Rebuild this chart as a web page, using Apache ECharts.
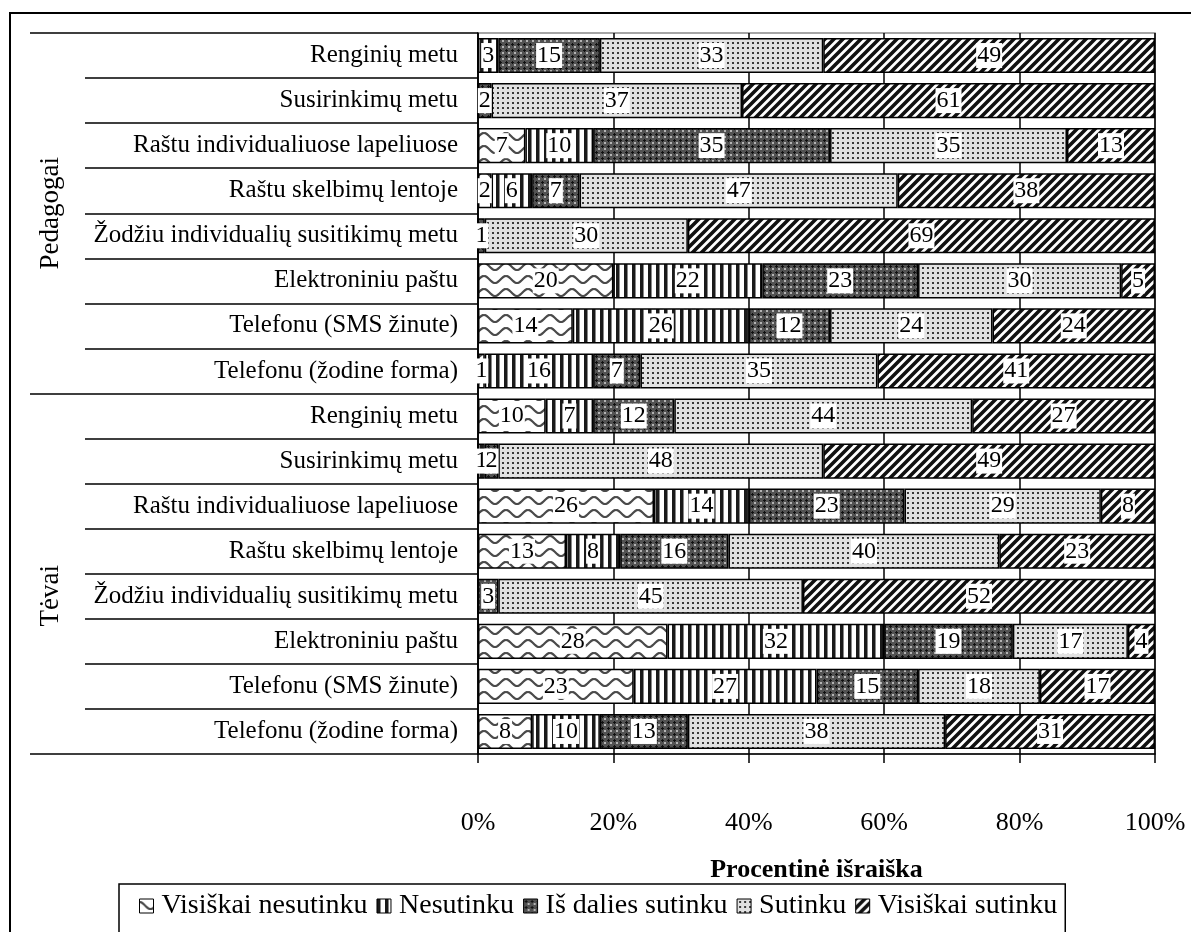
<!DOCTYPE html>
<html>
<head>
<meta charset="utf-8">
<script src="https://cdn.jsdelivr.net/npm/echarts@6/dist/echarts.min.js"></script>
<style>
html,body{margin:0;padding:0;background:#fff;}
#chart{width:1191px;height:932px;}
</style>
</head>
<body>
<div id="chart"></div>
<script>
// ---- data ----
const rowLabels = [
  'Renginių metu','Susirinkimų metu','Raštu individualiuose lapeliuose','Raštu skelbimų lentoje',
  'Žodžiu individualių susitikimų metu','Elektroniniu paštu','Telefonu (SMS žinute)','Telefonu (žodine forma)',
  'Renginių metu','Susirinkimų metu','Raštu individualiuose lapeliuose','Raštu skelbimų lentoje',
  'Žodžiu individualių susitikimų metu','Elektroniniu paštu','Telefonu (SMS žinute)','Telefonu (žodine forma)'
];
const groupLabels = ['Pedagogai','Tėvai'];
const seriesNames = ['Visiškai nesutinku','Nesutinku','Iš dalies sutinku','Sutinku','Visiškai sutinku'];
const visiskaiNesutinku = [0,0,7,2,0,20,14,1, 10,0,26,13,0,28,23,8];
const nesutinku         = [3,0,10,6,0,22,26,16, 7,1,14,8,0,32,27,10];
const isDaliesSutinku   = [15,2,35,7,1,23,12,7, 12,2,23,16,3,19,15,13];
const sutinku           = [33,37,35,47,30,30,24,35, 44,48,29,40,45,17,18,38];
const visiskaiSutinku   = [49,61,13,38,69,5,24,41, 27,49,8,23,52,4,17,31];

// ---- patterns ----
function mk(w,h,draw){const c=document.createElement('canvas');c.width=w;c.height=h;const g=c.getContext('2d');draw(g,w,h);return c;}
const patWave = mk(22,13,(g,w,h)=>{g.fillStyle='#fff';g.fillRect(0,0,w,h);g.strokeStyle='#4a4a4a';g.lineWidth=2.2;g.beginPath();
  for(let x=0;x<=w;x++){const y=6.5-3.5*Math.cos(x/w*2*Math.PI);if(x===0)g.moveTo(x,y);else g.lineTo(x,y);}g.stroke();});
const patVert = mk(8,4,(g,w,h)=>{g.fillStyle='#fff';g.fillRect(0,0,w,h);g.fillStyle='#1a1a1a';g.fillRect(0,0,3,h);g.fillStyle='#888';g.fillRect(3,0,1,h);});
const patDark = mk(6,6,(g,w,h)=>{g.fillStyle='#525252';g.fillRect(0,0,w,h);g.fillStyle='#111';g.fillRect(2,1,1,3);g.fillRect(1,2,3,1);g.fillStyle='#b4b4b4';g.fillRect(4,4,2,2);});
const patDots = mk(5,5,(g,w,h)=>{g.fillStyle='#e2e2e2';g.fillRect(0,0,w,h);g.fillStyle='#3a3a3a';g.fillRect(2,2,2,2);});
const patDiag = mk(9,9,(g,w,h)=>{g.fillStyle='#fff';g.fillRect(0,0,w,h);g.strokeStyle='#111';g.lineWidth=3.6;g.beginPath();
  g.moveTo(-4.5,4.5);g.lineTo(4.5,-4.5);g.moveTo(0,9);g.lineTo(9,0);g.moveTo(4.5,13.5);g.lineTo(13.5,4.5);g.stroke();});
const patterns = [patWave,patVert,patDark,patDots,patDiag];
const values = [visiskaiNesutinku,nesutinku,isDaliesSutinku,sutinku,visiskaiSutinku];

const FONT = 'Liberation Serif';
const rowKeys = rowLabels.map((_,i)=>'r'+i);

const series = seriesNames.map((name,si)=>({
  name, type:'bar', stack:'total', yAxisIndex:0, barCategoryGap:'22%',
  itemStyle:{color:{image:patterns[si],repeat:'repeat'},borderColor:'#000',borderWidth:1.5},
  label:{show:true,position:'inside',color:'#000',fontFamily:FONT,fontSize:24,backgroundColor:'#fff',padding:[1,1,0,1]},
  emphasis:{disabled:true},
  data: values[si].map(v=>({value:v,label:{show:v>0}}))
}));

const chart = echarts.init(document.getElementById('chart'),null,{renderer:'canvas'});
chart.setOption({
  animation:false,
  backgroundColor:'#fff',
  graphic:[{type:'rect',shape:{x:10,y:13,width:1200,height:940},style:{fill:'none',stroke:'#000',lineWidth:2},silent:true}],
  grid:{left:478,right:36,top:33,bottom:178,show:true,borderColor:'#888',borderWidth:1.5,backgroundColor:'transparent'},
  legend:{
    left:119, top:884, orient:'horizontal', icon:'rect', itemWidth:14, itemHeight:14, itemGap:9,
    borderColor:'#000', borderWidth:1.5, backgroundColor:'#fff', padding:[8,8,20,20],
    textStyle:{fontFamily:FONT,fontSize:28,color:'#000',padding:[0,0,0,3]},
    itemStyle:{borderColor:'#000',borderWidth:1},
    data:seriesNames
  },
  xAxis:{
    type:'value', min:0, max:100, interval:20,
    axisLine:{show:true,lineStyle:{color:'#000',width:1.5}},
    axisTick:{show:true,inside:false,length:9,lineStyle:{color:'#000',width:1.5}},
    axisLabel:{formatter:'{value}%',fontFamily:FONT,fontSize:26,color:'#000',margin:56},
    splitLine:{show:true,lineStyle:{color:'#000',width:1.5}},
    name:'Procentinė išraiška', nameLocation:'middle', nameGap:103,
    nameTextStyle:{fontFamily:FONT,fontSize:26,fontWeight:'bold',color:'#000'}
  },
  yAxis:[{
    type:'category', inverse:true, data:rowKeys,
    axisLine:{show:true,lineStyle:{color:'#000',width:1.5}},
    axisTick:{show:true,length:393,lineStyle:{color:'#000',width:1.5}},
    axisLabel:{formatter:(v,i)=>rowLabels[i],fontFamily:FONT,fontSize:25,color:'#000',margin:20},
    splitLine:{show:false}
  },{
    type:'category', inverse:true, data:groupLabels, position:'left',
    axisLine:{show:false},
    axisTick:{show:true,length:448,lineStyle:{color:'#000',width:1.5}},
    axisLabel:{rotate:90,fontFamily:FONT,fontSize:27,color:'#000',margin:414,
      formatter:(v,i)=> i===1 ? '{t|'+v+'}' : v,
      rich:{t:{fontFamily:FONT,fontSize:27,color:'#000',padding:[0,44,0,0]}}},
    splitLine:{show:false}
  }],
  series
});
</script>
</body>
</html>
